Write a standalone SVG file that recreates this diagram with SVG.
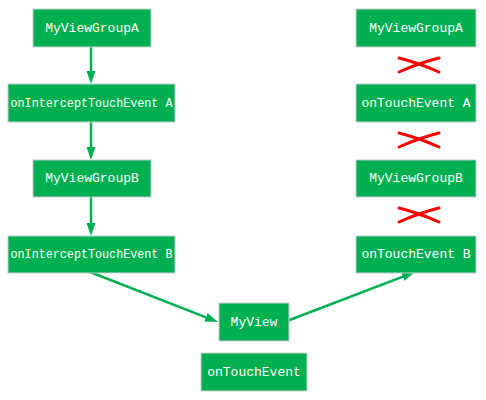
<svg xmlns="http://www.w3.org/2000/svg" width="486" height="400" viewBox="0 0 486 400">
  <style>
    .box { fill: #00b050; stroke: #c8ccd0; stroke-width: 1; }
    .lbl { fill: #ffffff; font-family: "Liberation Mono", "DejaVu Sans Mono", monospace; font-size: 13px; text-anchor: middle; dominant-baseline: central; }
    .conn { stroke: #00b050; stroke-width: 2.5; fill: none; }
    .cross { stroke: #ff0000; stroke-width: 3; fill: none; stroke-linecap: round; }
  </style>
  <defs>
    <marker id="arrow" markerUnits="userSpaceOnUse" markerWidth="14" markerHeight="10" refX="7" refY="5" orient="auto">
      <path d="M0,0.5 L13,5 L0,9.5 z" fill="#00b050"/>
    </marker>
  </defs>
  <rect width="486" height="400" fill="#ffffff"/>

  <g id="connectors">
    <path class="conn" d="M91,47 L91,78" marker-end="url(#arrow)"/>
    <path class="conn" d="M91,122 L91,154" marker-end="url(#arrow)"/>
    <path class="conn" d="M91,197 L91,230" marker-end="url(#arrow)"/>
    <path class="conn" d="M90,272 L212.4,319.8" marker-end="url(#arrow)"/>
    <path class="conn" d="M287,321 L409.4,274.1" marker-end="url(#arrow)"/>
  </g>

  <g id="crosses">
    <path class="cross" d="M399,58 Q419,63 439,72 M399,72 Q419,63 439,58"/>
    <path class="cross" d="M399,133 Q419,138 439,147 M399,147 Q419,138 439,133"/>
    <path class="cross" d="M399,208 Q419,213 439,222 M399,222 Q419,213 439,208"/>
  </g>

  <g id="left-groupA">
    <rect class="box" x="33" y="9" width="118" height="38"/>
    <text class="lbl" x="92" y="28">MyViewGroupA</text>
  </g>
  <g id="left-interceptA">
    <rect class="box" x="8" y="84" width="167" height="38"/>
    <text class="lbl" x="91.5" y="103" textLength="162" lengthAdjust="spacingAndGlyphs">onInterceptTouchEvent A</text>
  </g>
  <g id="left-groupB">
    <rect class="box" x="33" y="160" width="118" height="37"/>
    <text class="lbl" x="92" y="178.5">MyViewGroupB</text>
  </g>
  <g id="left-interceptB">
    <rect class="box" x="8" y="236" width="167" height="37"/>
    <text class="lbl" x="91.5" y="254.5" textLength="162" lengthAdjust="spacingAndGlyphs">onInterceptTouchEvent B</text>
  </g>
  <g id="myview">
    <rect class="box" x="219" y="303" width="70" height="38"/>
    <text class="lbl" x="254" y="322">MyView</text>
  </g>
  <g id="myview-ontouch">
    <rect class="box" x="201" y="353" width="106" height="38"/>
    <text class="lbl" x="254" y="372">onTouchEvent</text>
  </g>
  <g id="right-groupA">
    <rect class="box" x="356" y="9" width="120" height="38"/>
    <text class="lbl" x="416" y="28">MyViewGroupA</text>
  </g>
  <g id="right-touchA">
    <rect class="box" x="356" y="84" width="120" height="38"/>
    <text class="lbl" x="416" y="103">onTouchEvent A</text>
  </g>
  <g id="right-groupB">
    <rect class="box" x="356" y="160" width="120" height="37"/>
    <text class="lbl" x="416" y="178.5">MyViewGroupB</text>
  </g>
  <g id="right-touchB">
    <rect class="box" x="356" y="236" width="120" height="37"/>
    <text class="lbl" x="416" y="254.5">onTouchEvent B</text>
  </g>
</svg>
